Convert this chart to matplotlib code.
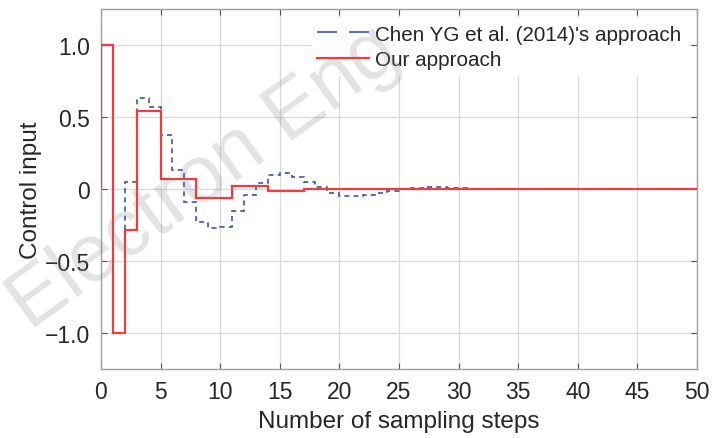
import numpy as np
import matplotlib
matplotlib.use('Agg')
import matplotlib.pyplot as plt
from matplotlib.lines import Line2D

plt.rcParams['font.family'] = ['Liberation Sans', 'DejaVu Sans']

n_steps = 50

# control input of "Our approach" (held value for each sampling step k = 0, 1, 2, ...)
our_u = [1.0, -1.0, -0.285, 0.54, 0.54,
         0.07, 0.07, 0.07, -0.06, -0.06, -0.06,
         0.023, 0.023, 0.023, -0.016, -0.016, -0.016,
         0.004, 0.004, 0.004]

# control input of Chen YG et al. (2014)
chen_u = [1.0, -1.0, 0.05, 0.63, 0.57, 0.375, 0.13, -0.09, -0.23, -0.27,
          -0.26, -0.15, -0.04, 0.04, 0.10, 0.11, 0.085, 0.047, 0.012, -0.026,
          -0.05, -0.05, -0.04, -0.026, -0.015, 0.0, 0.01, 0.015, 0.015, 0.01,
          0.005, -0.002]

x_ticks = [0, 5, 10, 15, 20, 25, 30, 35, 40, 45, 50]
y_ticks = [-1.0, -0.5, 0, 0.5, 1.0]
y_tick_labels = ['\u22121.0', '\u22120.5', '0', '0.5', '1.0']

blue = '#3a55b0'
red = '#f03c3c'


def pad(u, n):
    # after the listed steps the input stays at zero
    return np.array(list(u) + [0.0] * (n - len(u)))


our = pad(our_u, n_steps)
chen = pad(chen_u, n_steps)
edges = np.arange(n_steps + 1)

fig = plt.figure(figsize=(7.26, 4.39), dpi=100)
ax = fig.add_axes([0.139, 0.157, 0.821, 0.820])

ax.stairs(chen, edges, color=blue, linewidth=1.2, linestyle=(0, (3, 2.5)), zorder=3)
ax.stairs(our, edges, color=red, linewidth=1.6, zorder=4)

ax.set_xlim(0, 50)
ax.set_ylim(-1.25, 1.25)
ax.set_xticks(x_ticks)
ax.set_yticks(y_ticks)
ax.set_yticklabels(y_tick_labels)
ax.tick_params(direction='in', length=4, color='#555555', labelsize=16.5,
               labelcolor='#262626', top=True, right=True, pad=8)
ax.grid(True, color='#d9d9d9', linewidth=0.9)
ax.set_axisbelow(True)
for s in ax.spines.values():
    s.set_color('#a0a0a0')
    s.set_linewidth(1.0)

ax.set_xlabel('Number of sampling steps', fontsize=17.5, color='#262626', labelpad=5)
ax.set_ylabel('Control input', fontsize=17.5, color='#262626', labelpad=2)

handles = [Line2D([], [], color=blue, linewidth=1.2, linestyle=(0, (12, 7.2))),
           Line2D([], [], color=red, linewidth=1.6)]
labels = ["Chen YG et al. (2014)'s approach", 'Our approach']
leg = ax.legend(handles, labels, loc='upper right', fontsize=14.9, frameon=True,
                fancybox=False, borderaxespad=0.45, handlelength=2.5,
                handletextpad=0.3, labelspacing=0.3, borderpad=0.3)
leg.get_frame().set_edgecolor('white')
leg.get_frame().set_facecolor('white')
leg.get_frame().set_alpha(1.0)
for t in leg.get_texts():
    t.set_color('#262626')

# journal watermark, semi-transparent on top of the page
fig.text(0.042, 0.245, 'Electron Eng', fontsize=58, color='#808080', alpha=0.22,
         rotation=36, rotation_mode='anchor', ha='left', va='baseline', zorder=10)

fig.savefig('out.png', dpi=100)
